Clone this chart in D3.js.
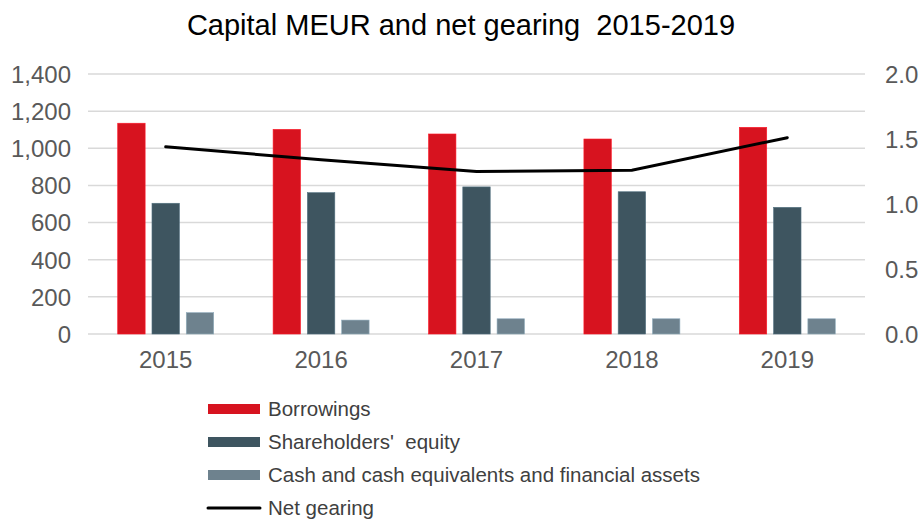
<!DOCTYPE html>
<html>
<head>
<meta charset="utf-8">
<script src="https://cdn.jsdelivr.net/npm/d3@7"></script>
<style>
  body { margin: 0; background: #fff; }
  svg { font-family: "Liberation Sans", Arial, sans-serif; }
</style>
</head>
<body>
<svg id="chart" width="922" height="519"></svg>
<script>
// chart data
var years = ['2015', '2016', '2017', '2018', '2019'];
var borrowings = [1135, 1102, 1077, 1050, 1113];
var equity = [704, 761, 792, 766, 682];
var cash = [115, 75, 82, 82, 82];
var gearing = [1.44, 1.34, 1.25, 1.26, 1.51];
var leftTicks = [0, 200, 400, 600, 800, 1000, 1200, 1400];
var rightTicks = [0, 0.5, 1.0, 1.5, 2.0];
var seriesNames = ['Borrowings', "Shareholders'  equity", 'Cash and cash equivalents and financial assets', 'Net gearing'];
var colors = ['#d7131f', '#3e5560', '#6e828e'];

var svg = d3.select('#chart');
// plot area edges
var plotLeft = 88, plotRight = 865, plotTop = 74, plotBottom = 334;
var fontFam = '"Liberation Sans", Arial, sans-serif';

var x = d3.scaleBand().domain(years).range([plotLeft, plotRight]);
var y = d3.scaleLinear().domain([0, 1400]).range([plotBottom, plotTop]);
var y2 = d3.scaleLinear().domain([0, 2]).range([plotBottom, plotTop]);

// title
svg.append('text')
  .attr('x', 461).attr('y', 35)
  .attr('text-anchor', 'middle')
  .attr('font-size', 29)
  .attr('fill', '#000')
  .attr('xml:space', 'preserve')
  .text('Capital MEUR and net gearing  2015-2019');

// gridlines
svg.append('g').selectAll('line')
  .data(leftTicks)
  .enter().append('line')
  .attr('x1', plotLeft).attr('x2', plotRight)
  .attr('y1', d => y(d)).attr('y2', d => y(d))
  .attr('stroke', '#d9d9d9')
  .attr('stroke-width', 1.5);

// left axis
var yAxis = svg.append('g')
  .attr('transform', 'translate(' + (plotLeft - 17) + ',0)')
  .call(d3.axisLeft(y).tickValues(leftTicks).tickSize(0).tickPadding(0).tickFormat(d3.format(',')));
yAxis.select('.domain').remove();
yAxis.selectAll('text').attr('font-size', 24).attr('fill', '#595959')
  .attr('font-family', fontFam).attr('dy', '0.35em');

// right axis
var y2Axis = svg.append('g')
  .attr('transform', 'translate(' + (plotRight + 20) + ',0)')
  .call(d3.axisRight(y2).tickValues(rightTicks).tickSize(0).tickPadding(0).tickFormat(d3.format('.1f')));
y2Axis.select('.domain').remove();
y2Axis.selectAll('text').attr('font-size', 24).attr('fill', '#595959')
  .attr('font-family', fontFam).attr('dy', '0.35em');

// x axis labels
var xAxis = svg.append('g')
  .attr('transform', 'translate(0,' + (plotBottom + 14) + ')')
  .call(d3.axisBottom(x).tickSize(0).tickPadding(0));
xAxis.select('.domain').remove();
xAxis.selectAll('text').attr('font-size', 24).attr('fill', '#595959')
  .attr('font-family', fontFam).attr('dy', '0.85em');

// bars
var barSeries = [borrowings, equity, cash];
var inner = d3.scaleBand().domain([0, 1, 2]).range([0, 96]).paddingInner(0.2);
var offset = (x.bandwidth() - 96) / 2;

barSeries.forEach(function (vals, i) {
  svg.append('g').selectAll('rect')
    .data(vals)
    .enter().append('rect')
    .attr('x', (d, j) => x(years[j]) + offset + inner(i))
    .attr('y', d => y(d))
    .attr('width', inner.bandwidth())
    .attr('height', d => plotBottom - y(d))
    .attr('fill', colors[i])
    .attr('stroke', d3.color(colors[i]).brighter(0.8))
    .attr('stroke-width', 0.6);
});

// net gearing line
var line = d3.line()
  .x((d, j) => x(years[j]) + x.bandwidth() / 2)
  .y(d => y2(d));
svg.append('path')
  .datum(gearing)
  .attr('d', line)
  .attr('fill', 'none')
  .attr('stroke', '#000')
  .attr('stroke-width', 3)
  .attr('stroke-linecap', 'round');

// legend
var legend = svg.append('g').attr('transform', 'translate(208,409)');
seriesNames.forEach(function (name, i) {
  var row = legend.append('g').attr('transform', 'translate(0,' + (i * 33) + ')');
  if (i < 3) {
    row.append('rect')
      .attr('x', 0).attr('y', -5)
      .attr('width', 52).attr('height', 10)
      .attr('fill', colors[i]);
  } else {
    row.append('line')
      .attr('x1', 0).attr('x2', 52)
      .attr('stroke', '#000').attr('stroke-width', 3)
      .attr('stroke-linecap', 'round');
  }
  row.append('text')
    .attr('x', 60).attr('y', 0).attr('dy', '0.35em')
    .attr('font-size', 20.5)
    .attr('fill', '#404040')
    .attr('xml:space', 'preserve')
    .text(name);
});
</script>
</body>
</html>
